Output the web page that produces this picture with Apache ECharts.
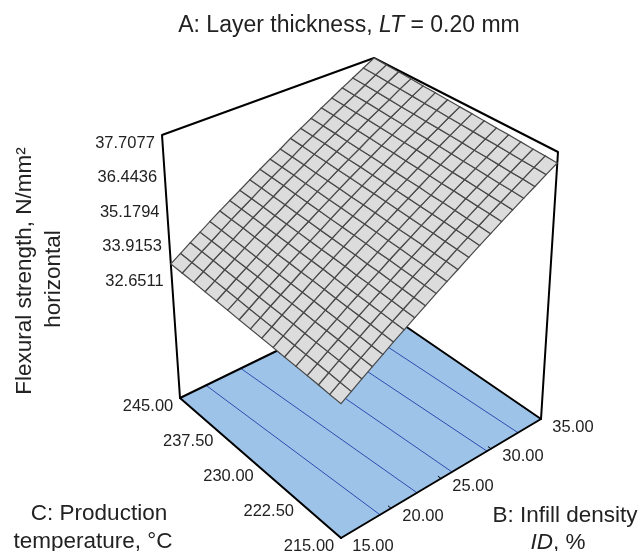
<!DOCTYPE html>
<html><head><meta charset="utf-8"><style>html,body{margin:0;padding:0;background:#fff}#c{width:640px;height:551px}</style>
<script src="https://cdn.jsdelivr.net/npm/echarts@6/dist/echarts.min.js"></script></head>
<body><div id="c"></div><script>
const infillTicks=[15,20,25,30,35];
const tempTicks=[215,222.5,230,237.5,245];
const strengthTicks=[32.6511,33.9153,35.1794,36.4436,37.7077];
const infillGrid=[15,16,17,18,19,20,21,22,23,24,25,26,27,28,29,30,31,32,33,34,35];
const tempGrid=[215,217,219,221,223,225,227,229,231,233,235,237,239,241,243,245];
const strength215=[32.65,32.88,33.12,33.35,33.58,33.82,34.05,34.28,34.51,34.75,34.98,35.21,35.45,35.68,35.91,36.15,36.38,36.61,36.84,37.08,37.31];
const strength217=[32.67,32.90,33.14,33.37,33.60,33.84,34.07,34.30,34.53,34.77,35.00,35.24,35.48,35.71,35.94,36.18,36.41,36.64,36.87,37.11,37.34];
const strength219=[32.70,32.93,33.17,33.40,33.63,33.87,34.10,34.33,34.56,34.80,35.03,35.26,35.50,35.73,35.96,36.20,36.43,36.66,36.89,37.13,37.36];
const strength221=[32.72,32.95,33.19,33.42,33.65,33.89,34.12,34.35,34.58,34.82,35.05,35.29,35.53,35.76,35.99,36.23,36.46,36.69,36.92,37.16,37.39];
const strength223=[32.74,32.97,33.21,33.44,33.67,33.91,34.14,34.38,34.61,34.85,35.08,35.31,35.55,35.78,36.02,36.26,36.49,36.72,36.95,37.19,37.42];
const strength225=[32.76,32.99,33.23,33.46,33.69,33.93,34.16,34.39,34.62,34.86,35.10,35.33,35.57,35.80,36.03,36.28,36.51,36.74,36.97,37.21,37.44];
const strength227=[32.79,33.02,33.26,33.49,33.72,33.96,34.19,34.43,34.66,34.90,35.13,35.36,35.60,35.83,36.07,36.31,36.54,36.77,37.00,37.24,37.47];
const strength229=[32.81,33.04,33.28,33.51,33.74,33.99,34.22,34.45,34.68,34.92,35.15,35.39,35.63,35.86,36.09,36.33,36.56,36.80,37.03,37.27,37.50];
const strength231=[32.83,33.06,33.30,33.53,33.76,34.00,34.24,34.47,34.70,34.94,35.17,35.41,35.65,35.88,36.11,36.35,36.59,36.82,37.05,37.29,37.52];
const strength233=[32.85,33.08,33.32,33.55,33.78,34.03,34.26,34.49,34.72,34.96,35.20,35.43,35.67,35.90,36.13,36.38,36.61,36.84,37.07,37.32,37.55];
const strength235=[32.88,33.11,33.35,33.58,33.81,34.05,34.29,34.52,34.75,34.99,35.22,35.46,35.70,35.93,36.16,36.40,36.64,36.87,37.10,37.34,37.58];
const strength237=[32.90,33.13,33.37,33.60,33.83,34.08,34.31,34.54,34.77,35.01,35.25,35.48,35.72,35.95,36.18,36.43,36.66,36.89,37.12,37.37,37.60];
const strength239=[32.92,33.15,33.39,33.62,33.86,34.10,34.33,34.56,34.80,35.04,35.27,35.50,35.75,35.98,36.21,36.45,36.69,36.92,37.15,37.40,37.63];
const strength241=[32.95,33.18,33.42,33.65,33.88,34.13,34.36,34.59,34.82,35.07,35.30,35.53,35.77,36.01,36.24,36.48,36.71,36.95,37.18,37.42,37.66];
const strength243=[32.97,33.20,33.44,33.67,33.91,34.15,34.38,34.61,34.85,35.09,35.32,35.55,35.80,36.03,36.26,36.51,36.74,36.97,37.21,37.45,37.68];
const strength245=[32.99,33.22,33.46,33.69,33.93,34.17,34.40,34.63,34.87,35.11,35.34,35.57,35.82,36.05,36.28,36.53,36.76,37.00,37.23,37.47,37.71];
const surface=[strength215,strength217,strength219,strength221,strength223,strength225,strength227,strength229,strength231,strength233,strength235,strength237,strength239,strength241,strength243,strength245];
const contourAt215=[18.9,22.6,26.1,29.6,32.7];
const contourAt245=[17.7,21.3,25.0,28.6,32.0];
const floorStrength=28.08, topStrength=37.7077;

// box corners on the page: [B=15,C=215],[B=35,C=215],[B=35,C=245],[B=15,C=245]
const floorBox=[[341,538],[541,419],[373,304],[180,398]];
const topBox=[[341,255],[558,152],[374,58],[162,135]];
function bilinear(q,u,v){
  return [0,1].map(i=>(1-u)*(1-v)*q[0][i]+u*(1-v)*q[1][i]+u*v*q[2][i]+(1-u)*v*q[3][i]);
}
function project(B,C,Z){
  const u=(B-15)/20,v=(C-215)/30,w=(Z-floorStrength)/(topStrength-floorStrength);
  const p=bilinear(floorBox,u,v),q=bilinear(topBox,u,v);
  return [p[0]+(q[0]-p[0])*w,p[1]+(q[1]-p[1])*w];
}
const F='"Liberation Sans",Arial,sans-serif', INK='#222';
function path(points,color,width,z){
  return {type:'line',data:points,showSymbol:false,silent:true,animation:false,z:z,
    lineStyle:{color:color,width:width,cap:'round',join:'round'},itemStyle:{color:color}};
}
const cells=[];
surface.forEach((row,r)=>row.forEach((_,c)=>{if(r<surface.length-1&&c<row.length-1)cells.push([r,c]);}));
const tickLabels=[
  ...tempTicks.map(t=>({p:project(15,t,floorStrength),dx:-32,dy:8,text:t.toFixed(2)})),
  ...infillTicks.map(b=>({p:project(b,215,floorStrength),dx:32,dy:8,text:b.toFixed(2)})),
  ...strengthTicks.map(s=>({p:project(15,245,s),dx:-37,dy:8,text:s.toFixed(4)}))
];
const series=[
  {type:'custom',silent:true,animation:false,z:1,coordinateSystem:'cartesian2d',data:[[0,0]],
   renderItem:(par,api)=>({type:'polygon',shape:{points:[[15,215],[35,215],[35,245],[15,245]].map(a=>api.coord(project(a[0],a[1],floorStrength)))},style:{fill:'#9DC3E8'}})}
];
contourAt215.forEach((b,i)=>series.push(path([project(b,215,floorStrength),project(contourAt245[i],245,floorStrength)],'#2E4DB0',1,2)));
[[15,215,35,215],[35,215,35,245],[35,245,15,245],[15,245,15,215]].forEach(e=>series.push(path([project(e[0],e[1],floorStrength),project(e[2],e[3],floorStrength)],'#000',2,3)));
infillTicks.slice(1,4).forEach(b=>{const p=project(b,215,floorStrength);series.push(path([p,project(b,215.5,floorStrength)],'#000',1,3));});
series.push(path([project(15,245,floorStrength),project(15,245,topStrength),project(35,245,topStrength),project(35,215,topStrength),project(35,215,floorStrength)],'#000',2,3));
series.push({type:'custom',silent:true,animation:false,z:5,coordinateSystem:'cartesian2d',data:cells,
  renderItem:(par,api)=>{
    const r=api.value(0),c=api.value(1);
    const pts=[[r,c],[r,c+1],[r+1,c+1],[r+1,c]].map(a=>api.coord(project(infillGrid[a[1]],tempGrid[a[0]],surface[a[0]][a[1]])));
    return {type:'polygon',shape:{points:pts},style:{fill:'#DCDCDC',stroke:'#484848',lineWidth:1.2}};
  }});
series.push({type:'custom',silent:true,animation:false,z:6,coordinateSystem:'cartesian2d',data:tickLabels.map((_,i)=>[i,i]),
  renderItem:(par,api)=>{
    const t=tickLabels[api.value(0)],p=api.coord(t.p);
    return {type:'text',x:p[0]+t.dx,y:p[1]+t.dy,style:{text:t.text,font:'16.5px '+F,fill:INK,align:'center',verticalAlign:'middle'}};
  }});
const big={fontFamily:'"Liberation Sans",Arial,sans-serif',fontSize:22.5,fill:INK};
function label(x,y,text,rot,rich,size){
  const s=size||big.fontSize;
  return {type:'text',x:x,y:y,rotation:rot||0,silent:true,z:10,style:Object.assign({},big,{fontSize:s,text:text,align:'center',verticalAlign:'middle',rich:rich})};
}
function richAt(s){return {a:{fontFamily:big.fontFamily,fontSize:s,fill:INK},i:{fontFamily:big.fontFamily,fontSize:s,fontStyle:'italic',fill:INK}};}
const chart=echarts.init(document.getElementById('c'),null,{renderer:'canvas'});
chart.setOption({animation:false,backgroundColor:'#fff',
  grid:{left:0,right:0,top:0,bottom:0},
  xAxis:{type:'value',min:0,max:640,show:false},
  yAxis:{type:'value',min:0,max:551,inverse:true,show:false},
  series:series,
  graphic:{elements:[
    label(349,26,'{a|A: Layer thickness, }{i|LT}{a| = 0.20 mm}',0,richAt(23),23),
    label(25,271,'Flexural strength, N/mm²',Math.PI/2),
    label(54,279,'horizontal',Math.PI/2),
    label(99,514,'C: Production'),
    label(93,542,'temperature, °C'),
    label(565,516,'B: Infill density'),
    label(558,543,'{i|ID}{a|, %}',0,richAt(22.5))
  ]}
});
</script></body></html>
